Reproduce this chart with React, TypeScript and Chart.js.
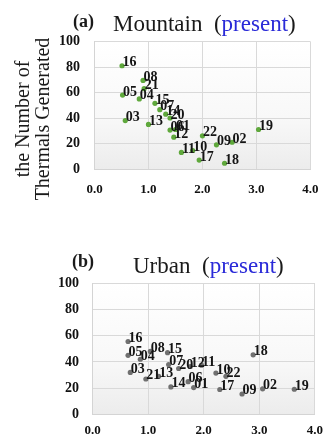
import React, { useEffect, useRef } from 'react';
import { Chart, registerables } from 'chart.js';

Chart.register(...registerables);

const FONT = "'Liberation Serif', 'Times New Roman', serif";

// ---- data ----
const xTickValues = [0, 1, 2, 3, 4];
const yTickValues = [0, 20, 40, 60, 80, 100];

const mountainIds = ['16', '08', '21', '05', '04', '15', '07', '14', '20', '03', '13', '06', '01', '12', '11', '10', '17', '22', '09', '02', '18', '19'];
const mountainX = [0.51, 0.90, 0.92, 0.52, 0.83, 1.12, 1.21, 1.32, 1.40, 0.57, 1.00, 1.40, 1.50, 1.47, 1.61, 1.82, 1.94, 2.00, 2.26, 2.55, 2.41, 3.04];
const mountainY = [81, 69.5, 63, 58, 55, 51.5, 46.5, 43, 40, 38, 35, 30.5, 31, 25, 13, 14.5, 7, 26, 19, 21, 4.5, 31];

const urbanIds = ['16', '05', '04', '08', '15', '03', '21', '13', '07', '20', '12', '11', '14', '06', '01', '10', '22', '17', '09', '02', '19', '18'];
const urbanX = [0.64, 0.64, 0.86, 1.04, 1.35, 0.68, 0.96, 1.19, 1.37, 1.55, 1.76, 1.96, 1.41, 1.72, 1.82, 2.22, 2.40, 2.29, 2.69, 3.06, 3.63, 2.89];
const urbanY = [55.5, 45, 42, 48, 47, 32, 27, 29, 38, 35, 36.5, 37.5, 21, 25, 20.5, 31.5, 29, 19, 15.6, 19.5, 19.2, 45.4];

// ---- plugins ----
const bgPlugin = {
  id: 'plotBg',
  beforeDraw(chart: any) {
    const { ctx, chartArea: a } = chart;
    if (!a) return;
    const g = ctx.createLinearGradient(0, a.top, 0, a.bottom);
    g.addColorStop(0, '#ffffff');
    g.addColorStop(0.6, '#f8f8f8');
    g.addColorStop(1, '#ececec');
    ctx.save();
    ctx.fillStyle = g;
    ctx.fillRect(a.left, a.top, a.right - a.left, a.bottom - a.top);
    ctx.restore();
  },
};

const idLabelPlugin = {
  id: 'idLabels',
  afterDatasetsDraw(chart: any) {
    const { ctx } = chart;
    chart.data.datasets.forEach((ds: any, di: number) => {
      const meta = chart.getDatasetMeta(di);
      const ids: string[] = ds.ids || [];
      ctx.save();
      ctx.font = `bold 14px ${FONT}`;
      ctx.fillStyle = '#141414';
      ctx.textAlign = 'left';
      ctx.textBaseline = 'alphabetic';
      meta.data.forEach((el: any, i: number) => {
        ctx.fillText(ids[i], el.x + 0.5, el.y + 0.5);
      });
      ctx.restore();
    });
  },
};

function makeConfig(
  ids: string[],
  xs: number[],
  ys: number[],
  color: string,
  pad: { left: number; right: number; top: number; bottom: number },
  yAxisW: number,
  xAxisH: number,
  yTickPad: number,
  xTickPad: number
): any {
  return {
    type: 'scatter',
    data: {
      datasets: [
        {
          ids,
          data: xs.map((x, i) => ({ x, y: ys[i] })),
          backgroundColor: color,
          borderColor: color,
          borderWidth: 0,
          pointRadius: 2.6,
          pointHoverRadius: 2.6,
        },
      ],
    },
    options: {
      responsive: false,
      animation: false,
      devicePixelRatio: 1,
      layout: { padding: pad },
      plugins: {
        legend: { display: false },
        tooltip: { enabled: false },
        title: { display: false },
      },
      scales: {
        x: {
          type: 'linear',
          position: 'bottom',
          min: 0,
          max: 4,
          afterBuildTicks: (s: any) => {
            s.ticks = xTickValues.map((v) => ({ value: v }));
          },
          afterFit: (s: any) => {
            s.height = xAxisH;
          },
          ticks: {
            callback: (v: any) => Number(v).toFixed(1),
            font: { family: FONT, size: 13, weight: 'bold' },
            color: '#111111',
            padding: xTickPad,
            maxRotation: 0,
            autoSkip: false,
          },
          grid: { color: '#d9d9d9', lineWidth: 1, drawTicks: false },
          border: { display: true, color: '#d4d4d4', width: 1 },
        },
        y: {
          type: 'linear',
          min: 0,
          max: 100,
          afterBuildTicks: (s: any) => {
            s.ticks = yTickValues.map((v) => ({ value: v }));
          },
          afterFit: (s: any) => {
            s.width = yAxisW;
          },
          ticks: {
            font: { family: FONT, size: 14, weight: 'bold' },
            color: '#111111',
            padding: yTickPad,
            autoSkip: false,
          },
          grid: { color: '#d9d9d9', lineWidth: 1, drawTicks: false },
          border: { display: true, color: '#d4d4d4', width: 1 },
        },
      },
    },
    plugins: [bgPlugin, idLabelPlugin],
  };
}

function ScatterPanel(props: {
  top: number;
  height: number;
  cfg: any;
}) {
  const ref = useRef<HTMLCanvasElement | null>(null);
  useEffect(() => {
    if (!ref.current) return;
    const chart = new Chart(ref.current, props.cfg);
    return () => chart.destroy();
  }, []);
  return (
    <canvas
      ref={ref}
      width={331}
      height={props.height}
      style={{ position: 'absolute', left: 0, top: props.top, width: 331, height: props.height, display: 'block' }}
    />
  );
}

const topCfg = makeConfig(
  mountainIds,
  mountainX,
  mountainY,
  '#5fa83c',
  { left: 54.5, right: 18, top: 41.5, bottom: 6 },
  40,
  25,
  14.5,
  12.5
);

const bottomCfg = makeConfig(
  urbanIds,
  urbanX,
  urbanY,
  '#707070',
  { left: 52.5, right: 14, top: 63, bottom: 0 },
  40,
  24.5,
  13.5,
  8
);

export default function App() {
  const textBase: React.CSSProperties = {
    position: 'absolute',
    fontFamily: FONT,
    whiteSpace: 'pre',
    lineHeight: 1,
    color: '#1a1a1a',
  };
  return (
    <div style={{ position: 'absolute', left: 0, top: 0, width: 331, height: 439, background: '#ffffff', overflow: 'hidden' }}>
      <ScatterPanel top={0} height={200} cfg={topCfg} />
      <ScatterPanel top={220} height={219} cfg={bottomCfg} />

      <div style={{ ...textBase, left: 73, top: 12, fontSize: 18, fontWeight: 'bold' }}>(a)</div>
      <div style={{ ...textBase, left: 113, top: 12.4, fontSize: 23 }}>
        Mountain  (<span style={{ color: '#2a2ad8' }}>present</span>)
      </div>

      <div style={{ ...textBase, left: 72, top: 251.6, fontSize: 18, fontWeight: 'bold' }}>(b)</div>
      <div style={{ ...textBase, left: 133, top: 254, fontSize: 23 }}>
        Urban  (<span style={{ color: '#2a2ad8' }}>present</span>)
      </div>

      <div
        style={{
          position: 'absolute',
          left: -67.75,
          top: 99,
          width: 200,
          height: 40,
          fontFamily: FONT,
          fontSize: 20,
          lineHeight: '20px',
          textAlign: 'center',
          color: '#1a1a1a',
          transform: 'rotate(-90deg)',
          transformOrigin: 'center center',
          whiteSpace: 'nowrap',
        }}
      >
        <div>the Number of</div>
        <div>Thermals Generated</div>
      </div>
    </div>
  );
}
